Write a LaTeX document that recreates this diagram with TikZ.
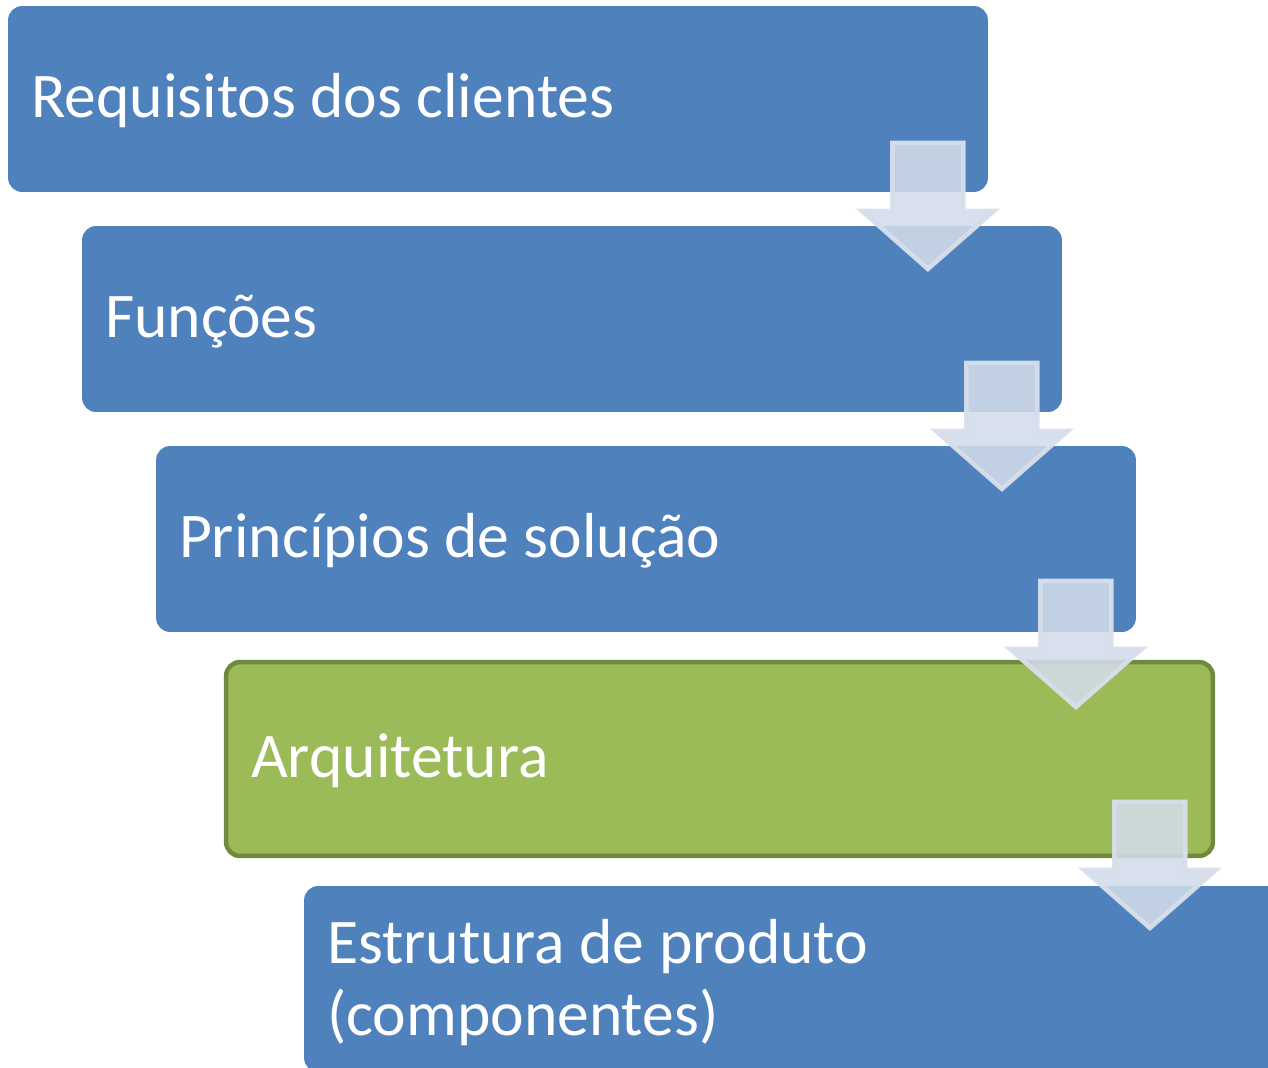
\documentclass[tikz,border=0pt]{standalone}
\usepackage{fontspec}
\setmainfont{Carlito}
\usetikzlibrary{calc}
\definecolor{boxblue}{HTML}{4F81BD}
\definecolor{boxgreen}{HTML}{9BBB59}
\definecolor{greenline}{HTML}{71893F}
\definecolor{arrowfill}{HTML}{D3DBEA}
\definecolor{arrowline}{HTML}{D8DFEC}
\tikzset{
  stagebox/.style={rectangle, rounded corners=0.28cm, inner sep=0pt, outer sep=0pt,
    minimum width=19.6cm, minimum height=3.72cm, fill=boxblue},
  greenbox/.style={stagebox, fill=boxgreen, draw=greenline, line width=0.09cm,
    minimum width=19.74cm, minimum height=3.88cm},
  lbl/.style={text=white, inner sep=0pt, outer sep=0pt, anchor=base west,
    font=\fontsize{36.2}{40.5}\selectfont, align=left},
  flowarrow/.pic={
    \path[fill=arrowfill, fill opacity=0.88, draw=arrowline, draw opacity=0.95,
      line width=0.09cm, line join=miter]
      (-35.5,2) -- (35.5,2) -- (35.5,70) -- (66,70) -- (0,128) -- (-66,70) -- (-35.5,70) -- cycle;
  }
}
\begin{document}
\begin{tikzpicture}[x=0.02cm, y=-0.02cm]
\useasboundingbox (0,0) rectangle (1268,1068);
\clip (0,0) rectangle (1268,1068);
\node[stagebox] (b1) at (498,99) {};
\node[stagebox] (b2) at (572,319) {};
\node[stagebox] (b3) at (646,539) {};
\node[greenbox] (b4) at (719.5,759) {};
\node[stagebox] (b5) at (794,979) {};
\node[lbl] (t1) at ($(b1.west)+(23,18)$) {Requisitos dos clientes};
\node[lbl] (t2) at ($(b2.west)+(23,18)$) {Funções};
\node[lbl] (t3) at ($(b3.west)+(23,18)$) {Princípios de solução};
\node[lbl] (t4) at ($(b4.west)+(25,18)$) {Arquitetura};
\node[lbl] (t5) at ($(b5.west)+(23,56)$) {Estrutura de produto\\(componentes)};
\coordinate (a1) at ($(b1.south east)+(-60,-51)$);
\coordinate (a2) at ($(b2.south east)+(-60,-51)$);
\coordinate (a3) at ($(b3.south east)+(-60,-53)$);
\coordinate (a4) at ($(b4.south east)+(-63,-56)$);
\pic at (a1) {flowarrow};
\pic at (a2) {flowarrow};
\pic at (a3) {flowarrow};
\pic at (a4) {flowarrow};
\end{tikzpicture}
\end{document}
